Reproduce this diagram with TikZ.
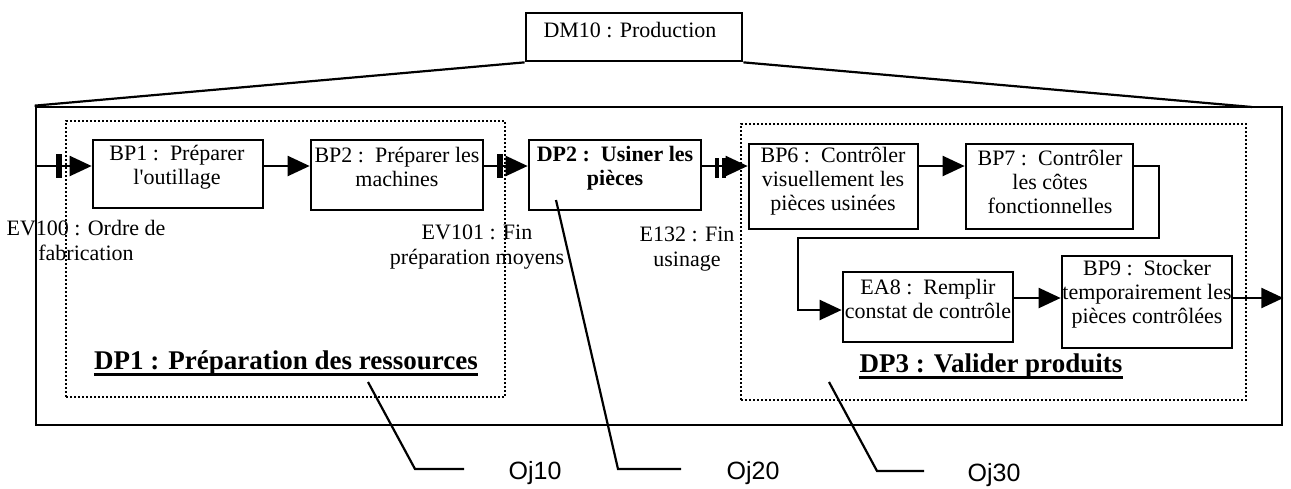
\documentclass[tikz,border=0pt]{standalone}
\usepackage{fontspec}
\setmainfont{Liberation Serif}
\newfontfamily\ojfont{Liberation Sans}
\usetikzlibrary{arrows.meta,fit}
\begin{document}
\begin{tikzpicture}[x=0.5pt,y=-0.5pt,
  box/.style={draw, line width=1.35pt, inner sep=0pt},
  zone/.style={draw, line width=1.1pt, dash pattern=on 1pt off 1pt, inner sep=0pt},
  txt/.style={align=center, inner sep=0pt, font=\fontsize{11}{12}\selectfont},
  evtxt/.style={align=center, inner sep=0pt, font=\fontsize{11}{12.5}\selectfont},
  boldtxt/.style={align=center, inner sep=0pt, font=\fontsize{11}{12}\selectfont\bfseries},
  lbl/.style={inner sep=0pt, font=\fontsize{13.5}{16}\selectfont\bfseries},
  oj/.style={inner sep=0pt, font=\ojfont\fontsize{12.5}{14}\selectfont},
  arr/.style={line width=1.1pt, -{Triangle[length=11pt,width=10pt]}},
  wire/.style={line width=1.1pt},
  uline/.style={line width=1.2pt},
  evbar/.style={fill=black, draw=none, inner sep=0pt, minimum width=2.6pt, minimum height=12pt},
  evbarthin/.style={fill=black, draw=none, inner sep=0pt, minimum width=2.2pt, minimum height=10pt},
]
\useasboundingbox (0,0) rectangle (1291,488);

% top box and frame
\node[box, fit={(526,13) (742,61)}] (dm10) {};
\node[txt] (dm10t) at (630,30) {DM10 : Production};
\node[box, fit={(36,107) (1282,425)}] (outer) {};
\coordinate (slr) at (1252,107);
\draw[wire] (dm10.south west) -- (outer.north west);
\draw[wire] (dm10.south east) -- (slr);

% dotted zones
\node[zone, fit={(66,121) (505,397)}] (dp1) {};
\node[zone, fit={(741,124) (1246,400)}] (dp3) {};

% boxes
\node[box, fit={(93,140) (263,208)}] (bp1) {};
\node[box, fit={(311,140) (483,210)}] (bp2) {};
\node[box, fit={(529,140) (701,210)}] (dp2) {};
\node[box, fit={(749,144) (918,229)}] (bp6) {};
\node[box, fit={(966,144) (1133,229)}] (bp7) {};
\node[box, fit={(843,272) (1013,342)}] (ea8) {};
\node[box, fit={(1062,256) (1232,348)}] (bp9) {};

% box texts
\node[txt] (bp1t) at (177,167) {BP1 :~~Préparer\\l\textquotesingle outillage};
\node[txt] (bp2t) at (397,167) {BP2 :~~Préparer les\\machines};
\node[boldtxt] (dp2t) at (615,168) {DP2 :~~Usiner les\\pièces};
\node[txt] (bp6t) at (833,181) {BP6 :~~Contrôler\\visuellement les\\pièces usinées};
\node[txt] (bp7t) at (1050,182) {BP7 :~~Contrôler\\les côtes\\fonctionnelles};
\node[txt] (ea8t) at (928,299) {EA8 :~~Remplir\\constat de contrôle};
\node[txt] (bp9t) at (1147,294) {BP9 :~~Stocker\\temporairement les\\pièces contrôlées};

% event labels
\node[evtxt] (ev100) at (86,240) {EV100 : Ordre de\\fabrication};
\node[evtxt] (ev101) at (477,247) {EV101 : Fin\\préparation moyens};
\node[evtxt] (e132) at (687,249) {E132 : Fin\\usinage};

% zone labels
\node[lbl] (dp1l) at (286,363) {DP1 : Préparation des ressources};
\node[lbl] (dp3l) at (991,366) {DP3 : Valider produits};
\draw[uline] ([yshift=-2.5pt]dp1l.base west) -- ([yshift=-2.5pt]dp1l.base east);
\draw[uline] ([yshift=-2.5pt]dp3l.base west) -- ([yshift=-2.5pt]dp3l.base east);

% objective labels and leaders
\node[oj] (oj10) at (535,473) {Oj10};
\node[oj] (oj20) at (753,473) {Oj20};
\node[oj] (oj30) at (994,475) {Oj30};
\coordinate (a10) at (368,382); \coordinate (b10) at (415,469); \coordinate (c10) at (464,469);
\coordinate (a20) at (556,200); \coordinate (b20) at (618,469); \coordinate (c20) at (681,469);
\coordinate (a30) at (829,382); \coordinate (b30) at (877,471); \coordinate (c30) at (924,471);
\draw[wire] (a10) -- (b10) -- (c10);
\draw[wire] (a20) -- (b20) -- (c20);
\draw[wire] (a30) -- (b30) -- (c30);

% flow
\coordinate (r1) at (0,166);
\coordinate (r2) at (0,298);
\coordinate (k1) at (1159,238);
\coordinate (k2) at (798,310);
\draw[arr] (outer.west |- r1) -- (bp1.west |- r1);
\node[evbar] (ev100bar) at (59,166) {};
\draw[arr] (bp1.east |- r1) -- (bp2.west |- r1);
\draw[arr] (bp2.east |- r1) -- (dp2.west |- r1);
\node[evbar] (ev101bar) at (500,166) {};
\draw[arr] (dp2.east |- r1) -- (bp6.west |- r1);
\node[evbarthin] (e132a) at (717,168) {};
\node[evbarthin] (e132b) at (724,168) {};
\draw[arr] (bp6.east |- r1) -- (bp7.west |- r1);
\draw[arr] (bp7.east |- r1) -| (k1) -| (k2) -- (k2 -| ea8.west);
\draw[arr] (ea8.east |- r2) -- (bp9.west |- r2);
\draw[arr] (bp9.east |- r2) -- (outer.east |- r2);
\end{tikzpicture}
\end{document}
